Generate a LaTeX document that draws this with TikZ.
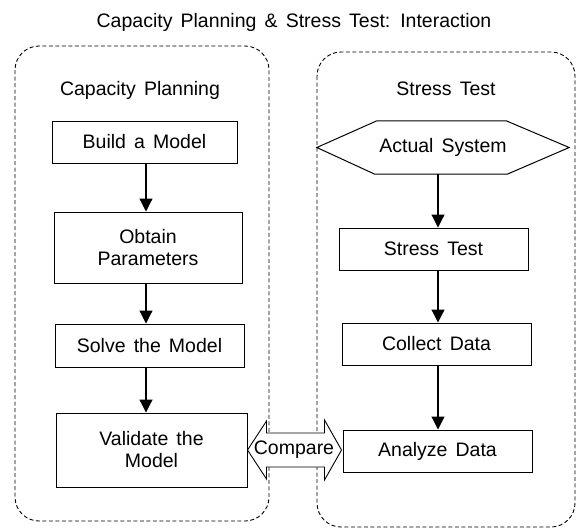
\documentclass[tikz,border=0pt]{standalone}
\usepackage{fontspec}
\setmainfont{Liberation Sans}[WordSpace=1.5]
\usetikzlibrary{arrows.meta,calc}

\begin{document}
\begin{tikzpicture}[x=1pt,y=-1pt,
  every node/.style={font=\fontsize{19.5}{22}\selectfont},
  stepbox/.style={draw,line width=1pt,inner sep=0pt,align=center},
  textonly/.style={inner sep=0pt,align=center},
  flow/.style={line width=1.2pt,-{Triangle[length=13pt,width=13pt]}},
  group/.style={draw,line width=0.9pt,rounded corners=24pt,dash pattern=on 4pt off 2.5pt},
  cmparrow/.style={draw,fill=white,line width=0.9pt,line join=miter}]
\useasboundingbox (0,0) rectangle (577,528);

% dashed group frames
\draw[group] (15,46) rectangle (269,521);
\draw[group] (317,52) rectangle (575,527);

% title and group headings
\node[anchor=base] (title) at (294,27) {Capacity Planning \& Stress Test: Interaction};
\node[anchor=base] (hcp) at (140,95) {Capacity Planning};
\node[anchor=base] (hst) at (446,95) {Stress Test};

% capacity planning steps
\node[stepbox,minimum width=185pt,minimum height=42pt] (build) at (144.5,142) {Build a Model};
\node[stepbox,minimum width=188pt,minimum height=71pt] (obtain) at (148,247.5) {Obtain\\Parameters};
\node[stepbox,minimum width=189pt,minimum height=43pt] (solve) at (149.5,345.5) {Solve the Model};
\node[stepbox,minimum width=191pt,minimum height=74pt] (valid) at (151.5,450) {Validate the\\Model};

% stress test steps
\node[textonly,minimum width=252pt,minimum height=53pt] (act) at (443,147.5) {Actual System};
\draw[line width=1pt] (act.west) -- ($(act.north west)+(60,0)$) -- ($(act.north east)+(-63,0)$)
  -- (act.east) -- ($(act.south east)+(-62,0)$) -- ($(act.south west)+(58,0)$) -- cycle;
\node[stepbox,minimum width=189pt,minimum height=42pt] (stress) at (433.5,249) {Stress Test};
\node[stepbox,minimum width=189pt,minimum height=42pt] (collect) at (436.5,344) {Collect Data};
\node[stepbox,minimum width=189pt,minimum height=42pt] (analyze) at (437.5,451) {Analyze Data};

% flow axes
\coordinate (axL) at (146,0);
\coordinate (axR) at (438,0);

\draw[flow] (build.south -| axL) -- (obtain.north -| axL);
\draw[flow] (obtain.south -| axL) -- (solve.north -| axL);
\draw[flow] (solve.south -| axL) -- (valid.north -| axL);

\draw[flow] (act.south -| axR) -- (stress.north -| axR);
\draw[flow] (stress.south -| axR) -- (collect.north -| axR);
\draw[flow] (collect.south -| axR) -- (analyze.north -| axR);

% two-headed compare arrow between the groups
\draw[cmparrow] (valid.east) -- ++(19,-29) -- ++(0,12) -- ++(58,0) -- ++(0,-13) -- ++(17,30)
  -- ++(-17,30) -- ++(0,-13) -- ++(-58,0) -- ++(0,12) -- cycle;
\node[textonly] (cmp) at (294,450) {Compare};
\end{tikzpicture}
\end{document}
